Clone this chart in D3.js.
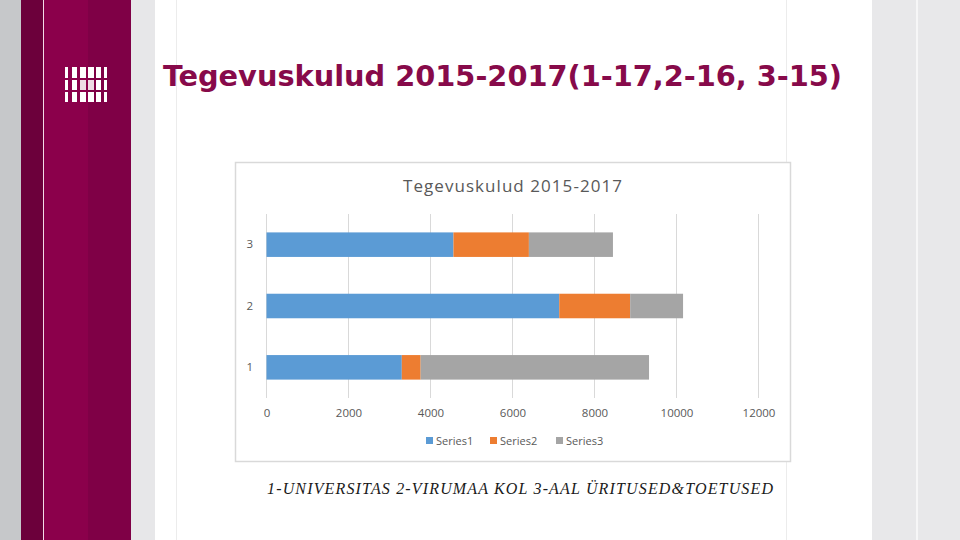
<!DOCTYPE html>
<html>
<head>
<meta charset="utf-8">
<script src="https://cdn.jsdelivr.net/npm/d3@7"></script>
<style>
  html, body { margin: 0; padding: 0; background: #fff; }
  svg { display: block; }
</style>
</head>
<body>
<svg id="slide" width="960" height="540"></svg>
<script>
// chart data
var categories = ['1', '2', '3'];
var seriesNames = ['Series1', 'Series2', 'Series3'];
var series1 = [3300, 7140, 4560];
var series2 = [460, 1730, 1840];
var series3 = [5570, 1290, 2050];
var xTicks = [0, 2000, 4000, 6000, 8000, 10000, 12000];
var colors = ['#5b9bd5', '#ed7d31', '#a5a5a5'];

var svg = d3.select('#slide');

// slide background strips
var strips = [
  [0, 21, '#c6c8ca'],
  [21, 22, '#6c003b'],
  [43, 1, '#f4dbe6'],
  [44, 44, '#8b004b'],
  [88, 43, '#7f0046'],
  [131, 24, '#e7e7e9'],
  [176, 1, '#ececec'],
  [786, 1, '#ececec'],
  [872, 44, '#e8e8ea'],
  [916, 2, '#f6f6f7'],
  [918, 42, '#e8e8ea']
];
svg.selectAll('rect.strip').data(strips).join('rect')
  .attr('class', 'strip')
  .attr('x', function (d) { return d[0]; }).attr('y', 0)
  .attr('width', function (d) { return d[1]; }).attr('height', 540)
  .attr('fill', function (d) { return d[2]; });

// logo (white bar grid)
var logo = svg.append('g').attr('transform', 'translate(64,67)');
var cols = [0, 8, 16, 24, 32, 40];
var widths = [3, 5, 6, 6, 5, 3];
[[0, 11], [13, 10], [25, 10]].forEach(function (row, ri) {
  cols.forEach(function (cx, ci) {
    logo.append('rect')
      .attr('x', cx + (ci === 0 ? 1 : 0)).attr('y', row[0])
      .attr('width', widths[ci]).attr('height', row[1])
      .attr('fill', (ri === 1 && (ci === 2 || ci === 3)) ? '#eedbe4' : '#ffffff');
  });
});

// slide title
svg.append('text')
  .attr('x', 163).attr('y', 86)
  .attr('font-family', 'DejaVu Sans Condensed, DejaVu Sans, Verdana, sans-serif')
  .attr('font-stretch', 'condensed')
  .attr('font-weight', 'bold')
  .attr('font-size', 28)
  .attr('fill', '#870a4a')
  .attr('textLength', 679)
  .attr('lengthAdjust', 'spacingAndGlyphs')
  .text('Tegevuskulud 2015-2017(1-17,2-16, 3-15)');

// chart box
svg.append('rect')
  .attr('x', 235.5).attr('y', 162.5)
  .attr('width', 555).attr('height', 299)
  .attr('fill', '#fff').attr('stroke', '#d9d9d9').attr('stroke-width', 1.5);

var chartFont = 'Open Sans, Noto Sans, sans-serif';
var textGray = '#595959';

svg.append('text')
  .attr('x', 403).attr('y', 192)
  .attr('font-family', chartFont).attr('font-size', 17)
  .attr('fill', textGray)
  .attr('textLength', 219).attr('lengthAdjust', 'spacing')
  .text('Tegevuskulud 2015-2017');

var x = d3.scaleLinear().domain([0, 12000]).range([266.5, 758.5]);
var y = d3.scaleBand().domain(categories.slice().reverse()).range([214, 398]).paddingInner(0.6).paddingOuter(0.3);

// gridlines
svg.append('g').selectAll('line').data(xTicks).join('line')
  .attr('x1', function (d) { return x(d); }).attr('x2', function (d) { return x(d); })
  .attr('y1', 214).attr('y2', 398)
  .attr('stroke', '#d9d9d9').attr('stroke-width', 1);

// x axis labels
var xAxis = d3.axisBottom(x).tickValues(xTicks).tickSize(0).tickPadding(0).tickFormat(d3.format('d'));
var gx = svg.append('g').attr('transform', 'translate(0,409)').call(xAxis);
gx.select('.domain').remove();
gx.selectAll('text').attr('font-family', chartFont).attr('font-size', 11.5).attr('fill', textGray);

// y axis labels
var yAxis = d3.axisLeft(y).tickSize(0).tickPadding(0);
var gy = svg.append('g').attr('transform', 'translate(253,0)').call(yAxis);
gy.select('.domain').remove();
gy.selectAll('text').attr('font-family', chartFont).attr('font-size', 11.5).attr('fill', textGray);

// stacked bars
var rows = categories.map(function (c, i) {
  return { cat: c, Series1: series1[i], Series2: series2[i], Series3: series3[i] };
});
var stack = d3.stack().keys(seriesNames)(rows);
svg.append('g').selectAll('g').data(stack).join('g')
  .attr('fill', function (d, i) { return colors[i]; })
  .selectAll('rect').data(function (d) { return d; }).join('rect')
  .attr('x', function (d) { return x(d[0]); })
  .attr('width', function (d) { return x(d[1]) - x(d[0]); })
  .attr('y', function (d) { return y(d.data.cat); })
  .attr('height', y.bandwidth());

// legend
var legX = [426, 490, 556];
var leg = svg.append('g').selectAll('g').data(seriesNames).join('g')
  .attr('transform', function (d, i) { return 'translate(' + legX[i] + ',437)'; });
leg.append('rect').attr('width', 7).attr('height', 7)
  .attr('fill', function (d, i) { return colors[i]; });
leg.append('text').attr('x', 10).attr('y', 7.5)
  .attr('font-family', chartFont).attr('font-size', 11).attr('fill', textGray)
  .text(function (d) { return d; });

// footnote
svg.append('text')
  .attr('x', 267).attr('y', 494)
  .attr('font-family', 'Liberation Serif, Times New Roman, serif')
  .attr('font-style', 'italic').attr('font-size', 16)
  .attr('fill', '#1a1a1a')
  .attr('textLength', 506).attr('lengthAdjust', 'spacing')
  .text('1-UNIVERSITAS 2-VIRUMAA KOL 3-AAL ÜRITUSED&TOETUSED');
</script>
</body>
</html>
